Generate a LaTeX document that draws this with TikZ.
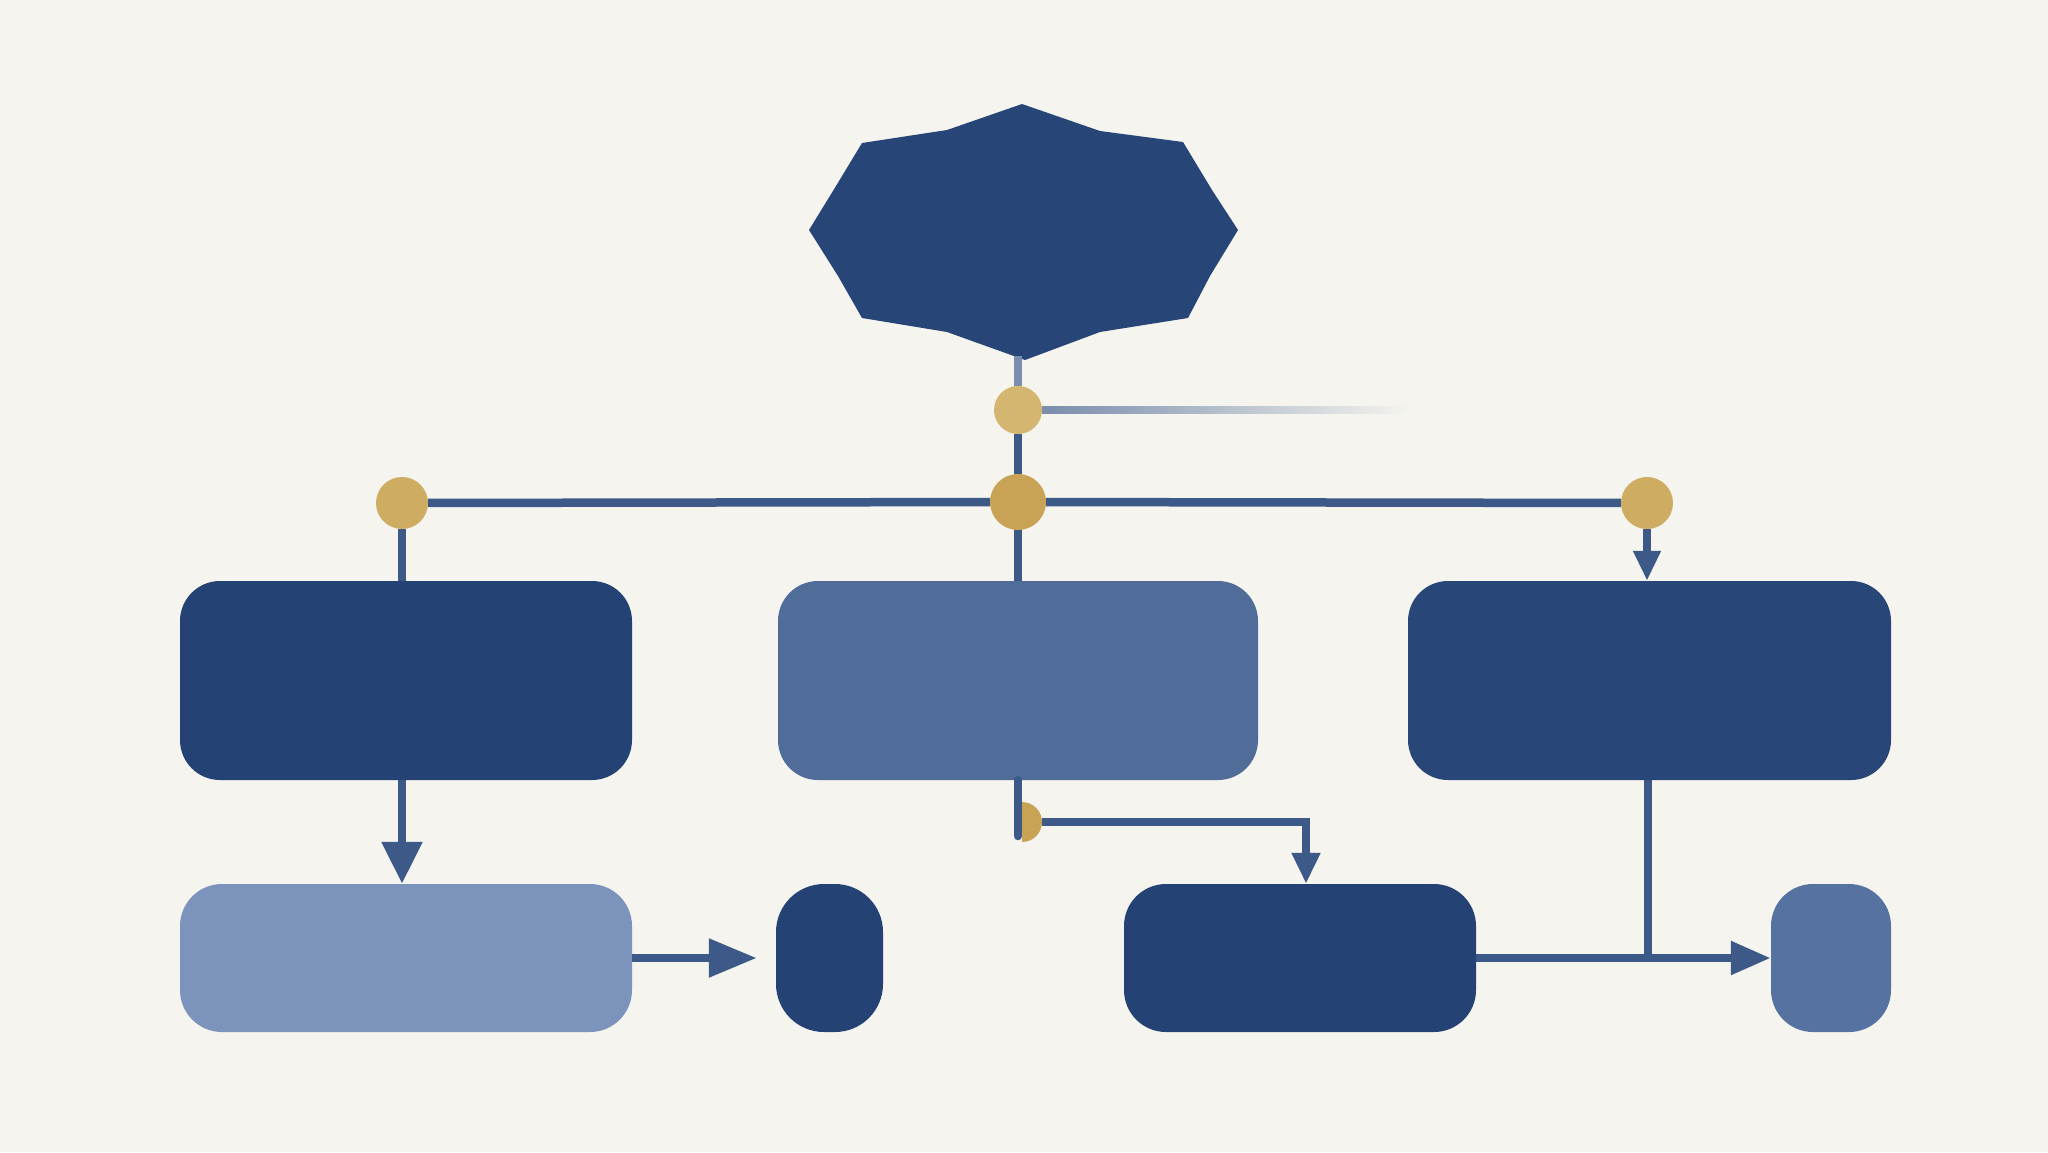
\documentclass[tikz,border=0pt]{standalone}
\usetikzlibrary{arrows.meta,calc}
\definecolor{bg}{RGB}{245,244,238}
\definecolor{navy}{RGB}{36,66,116}
\definecolor{navymid}{RGB}{80,108,152}
\definecolor{navylight}{RGB}{124,147,188}
\definecolor{navyseven}{RGB}{86,114,160}
\definecolor{line}{RGB}{60,89,136}
\definecolor{linelight}{RGB}{122,141,172}
\definecolor{gold}{RGB}{200,163,86}
\definecolor{goldlight}{RGB}{212,182,112}
\definecolor{goldmid}{RGB}{206,172,98}
\tikzset{
  box/.style={draw=none,inner sep=0pt,rounded corners=40pt,minimum height=199pt},
  lowbox/.style={draw=none,inner sep=0pt,rounded corners=42pt,minimum height=148pt},
  dot/.style={circle,draw=none,inner sep=0pt},
  conn/.style={draw=line,line width=8.5pt},
}
\begin{document}
\begin{tikzpicture}[x=1pt,y=-1pt]
\fill[bg] (0,0) rectangle (2048,1152);
\useasboundingbox (0,0) rectangle (2048,1152);

% top shape
\coordinate (s1) at (1022,104);
\coordinate (s2) at (1100,131);
\coordinate (s3) at (1183,142);
\coordinate (s3b) at (1212,190);
\coordinate (s4) at (1238,230);
\coordinate (s4b) at (1210,276);
\coordinate (s5) at (1188,318);
\coordinate (s6) at (1100,332);
\coordinate (s7) at (1025,360);
\coordinate (s8) at (947,332);
\coordinate (s9) at (862,318);
\coordinate (s9b) at (838,276);
\coordinate (s10) at (809,230);
\coordinate (s10b) at (836,186);
\coordinate (s11) at (862,143);
\coordinate (s12) at (947,130);
\fill[navy!92!navymid] (s1) -- (s2) -- (s3) -- (s3b) -- (s4) -- (s4b) -- (s5) -- (s6) -- (s7) -- (s8) -- (s9) -- (s9b) -- (s10) -- (s10b) -- (s11) -- (s12) -- cycle;
\coordinate (topb) at (1018,356);

% dots
\node[dot,fill=goldlight,minimum size=48pt] (c1) at (1018,410) {};
\node[dot,fill=gold,minimum size=56pt] (c2) at (1018,502) {};
\node[dot,fill=goldmid,minimum size=52pt] (cl) at (402,503) {};
\node[dot,fill=goldmid,minimum size=52pt] (cr) at (1647,503) {};

% boxes
\node[box,fill=navy,minimum width=452pt] (b1) at (406,680.5) {};
\node[box,fill=navymid,minimum width=480pt] (b2) at (1018,680.5) {};
\node[box,fill=navy!90!navymid,minimum width=483pt] (b3) at (1649.5,680.5) {};
\node[lowbox,fill=navylight,minimum width=452pt] (b4) at (406,958) {};
\node[lowbox,fill=navy,minimum width=107pt,rounded corners=48pt] (b5) at (829.5,958) {};
\node[lowbox,fill=navy,minimum width=352pt] (b6) at (1300,958) {};
\node[lowbox,fill=navyseven,minimum width=120pt] (b7) at (1831,958) {};

% connectors
\draw[draw=linelight,line width=7.5pt] (topb) -- (c1);
\draw[conn] (c1) -- (c2);
\shade[left color=linelight,right color=bg] ($(c1.east)+(0,-3.7)$) rectangle (1410,413.7);
\draw[conn] (cl) -- (c2);
\draw[conn] (c2) -- (cr);
\draw[conn] (cl) -- (cl |- b1.north);
\draw[conn] (c2) -- (b2.north);
\draw[conn,-{Triangle[length=30pt,width=26pt]}] (cr) -- (cr |- b3.north);
\draw[conn,-{Triangle[length=42pt,width=39pt]}] (b1.south -| cl) -- (b4.north -| cl);
\draw[conn,-{Triangle[length=48pt,width=37pt]},shorten >=19pt] (b4.east) -- (b5.west);
\coordinate (hc) at (1022,822);
\coordinate (j6) at (1306,822);
\coordinate (jn) at (1648,958);
\draw[conn,line cap=round] (b2.south) -- (1018,836);
\fill[gold] ($(hc)+(0,-20)$) arc[start angle=-90,end angle=90,radius=20] -- cycle;
\draw[conn,-{Triangle[length=31pt,width=27pt]}] ($(hc)+(20,0)$) -- (j6) -- (j6 |- b6.north);
\draw[conn] (b3.south -| jn) -- (jn);
\draw[conn,-{Triangle[length=40pt,width=32pt]}] (b6.east) -- (b7.west);
\end{tikzpicture}
\end{document}
